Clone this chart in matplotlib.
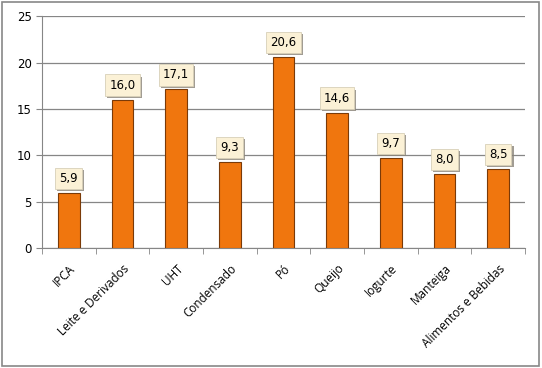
import matplotlib.pyplot as plt
import matplotlib.patheffects as pe
import numpy as np

categorias = ["IPCA", "Leite e Derivados", "UHT", "Condensado", "Pó", "Queijo",
              "Iogurte", "Manteiga", "Alimentos e Bebidas"]
valores = [5.9, 16.0, 17.1, 9.3, 20.6, 14.6, 9.7, 8.0, 8.5]
rotulos = ["5,9", "16,0", "17,1", "9,3", "20,6", "14,6", "9,7", "8,0", "8,5"]

fig = plt.figure(figsize=(5.42, 3.68), dpi=100)
# moldura cinza em volta do grafico
fig.patches.append(plt.Rectangle((0.004, 0.006), 0.99, 0.988, transform=fig.transFigure,
                                 fill=False, edgecolor="#888888", linewidth=1.2))
ax = fig.add_axes([0.0775, 0.326, 0.891, 0.630])

x = np.arange(len(categorias))
ax.bar(x, valores, width=0.4, color="#F0760E", edgecolor="#7A3A08", linewidth=0.8, zorder=3)

for xi, v, r in zip(x, valores, rotulos):
    a = ax.annotate(r, (xi, v), xytext=(0, 10.5), textcoords="offset points",
                    ha="center", va="center", fontsize=8.5, family="DejaVu Sans", zorder=5,
                    bbox=dict(boxstyle="square,pad=0.35", facecolor="#FBF1D6",
                              edgecolor="#D8D0B8", linewidth=0.6))
    a.get_bbox_patch().set_path_effects([
        pe.SimplePatchShadow(offset=(1.5, -1.5), shadow_rgbFace="#8A8478", alpha=0.8),
        pe.Normal()])

ax.set_xlim(-0.5, len(categorias) - 0.5)
ax.set_ylim(0, 25)
ax.set_yticks([0, 5, 10, 15, 20, 25])
ax.yaxis.grid(True, color="#868686", linewidth=0.9, zorder=0)
ax.set_axisbelow(True)

ax.set_xticks(x)
ax.set_xticklabels(categorias, rotation=45, ha="right", rotation_mode="anchor",
                   family="Open Sans", fontsize=8.5)
ax.set_xticks(np.arange(-0.5, len(categorias)), minor=True)
ax.tick_params(axis="x", which="major", length=0, pad=10)
ax.tick_params(axis="x", which="minor", length=4, color="#868686")
ax.tick_params(axis="y", length=4, color="#868686", labelsize=8.5)
for t in ax.get_yticklabels():
    t.set_family("DejaVu Sans")

for s in ["top", "right"]:
    ax.spines[s].set_visible(False)
ax.spines["left"].set_color("#868686")
ax.spines["bottom"].set_color("#868686")

fig.savefig("out.png", dpi=100)
